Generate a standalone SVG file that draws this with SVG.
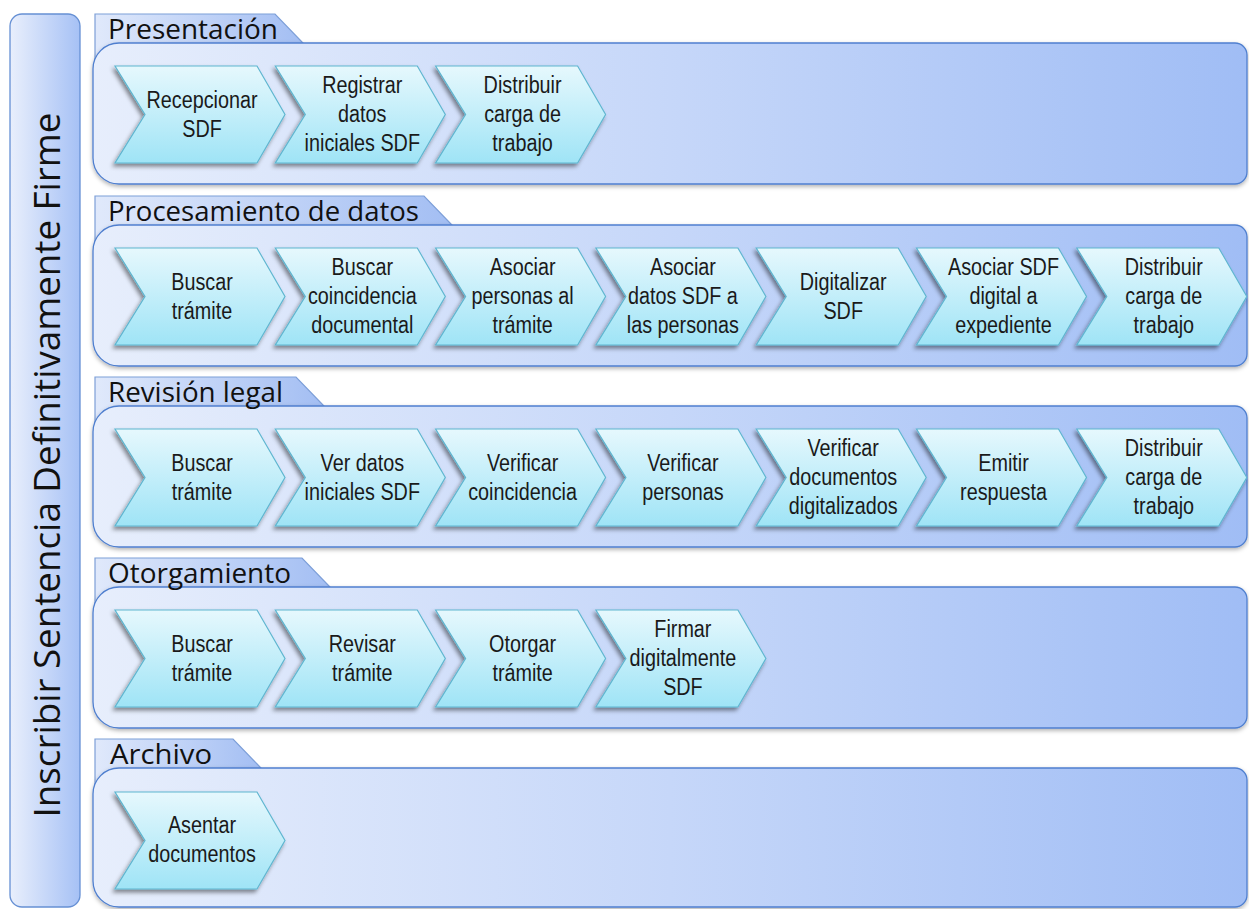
<svg xmlns="http://www.w3.org/2000/svg" width="1249" height="909" viewBox="0 0 1249 909">
<defs>
<linearGradient id="gBar" x1="0" y1="0" x2="1" y2="0"><stop offset="0" stop-color="#e9effc"/><stop offset="1" stop-color="#a6c1f5"/></linearGradient>
<linearGradient id="gBody" x1="0" y1="0" x2="1" y2="0"><stop offset="0" stop-color="#e7eefc"/><stop offset="0.5" stop-color="#c6d7f9"/><stop offset="1" stop-color="#a0bdf5"/></linearGradient>
<linearGradient id="gTab" x1="0" y1="0" x2="1" y2="0"><stop offset="0" stop-color="#e0e9fb"/><stop offset="1" stop-color="#a3bef3"/></linearGradient>
<linearGradient id="gChev" x1="0" y1="0" x2="0" y2="1"><stop offset="0" stop-color="#e6f8fd"/><stop offset="1" stop-color="#9fe4f6"/></linearGradient>
<filter id="shChev" x="-15%" y="-15%" width="130%" height="140%"><feDropShadow dx="-2" dy="3" stdDeviation="2" flood-color="#000" flood-opacity="0.45"/></filter>
<filter id="shBody" x="-5%" y="-10%" width="110%" height="125%"><feDropShadow dx="0" dy="2" stdDeviation="2" flood-color="#000" flood-opacity="0.3"/></filter>
<polygon id="chev" points="0,0 142,0 170,48.5 142,97 0,97 30,48.5"/>
</defs>
<style>
.bar{fill:url(#gBar);stroke:#6690d4;stroke-width:1.3}
.body{fill:url(#gBody);stroke:#4f7fcf;stroke-width:1.3;filter:url(#shBody)}
.tab{fill:url(#gTab);stroke:#7d9fd8;stroke-width:1.2}
.chev{fill:url(#gChev);stroke:#5fb6d0;stroke-width:1.2;filter:url(#shChev)}
.tabt{font-family:"Open Sans","DejaVu Sans",sans-serif;font-size:27px;fill:#111}
.title{font-family:"Open Sans","DejaVu Sans",sans-serif;font-size:37px;fill:#111}
.lbl text{font-family:"Liberation Sans",Arial,sans-serif;font-size:23px;fill:#1a1a1a;text-anchor:middle}
</style>
<rect width="1249" height="909" fill="#ffffff"/>

<g id="title-bar">
<rect class="bar" x="10" y="14" width="70" height="893" rx="12"/>
<text class="title" transform="translate(60 465) rotate(-90)" text-anchor="middle" textLength="705" lengthAdjust="spacingAndGlyphs">Inscribir Sentencia Definitivamente Firme</text>
</g>

<g id="connectors"/>

<!-- Presentación -->
<g id="lane-presentacion">
<polygon class="tab" points="95,14 275,14 303,43 303,74 95,74"/>
<path class="body" d="M119,43 H1235 A12,12 0 0 1 1247,55 V172 A12,12 0 0 1 1235,184 H119 A26,26 0 0 1 93,158 V69 A26,26 0 0 1 119,43 Z"/>
<text class="tabt" x="108" y="39" textLength="170" lengthAdjust="spacingAndGlyphs">Presentación</text>
<g id="p1"><use class="chev" href="#chev" x="115" y="66"/><g class="lbl" transform="translate(202 0) scale(0.86 1)"><text y="108">Recepcionar</text><text y="137">SDF</text></g></g>
<g id="p2"><use class="chev" href="#chev" x="275.3" y="66"/><g class="lbl" transform="translate(362.3 0) scale(0.86 1)"><text y="93.5">Registrar</text><text y="122.5">datos</text><text y="151.5">iniciales SDF</text></g></g>
<g id="p3"><use class="chev" href="#chev" x="435.6" y="66"/><g class="lbl" transform="translate(522.6 0) scale(0.86 1)"><text y="93.5">Distribuir</text><text y="122.5">carga de</text><text y="151.5">trabajo</text></g></g>
</g>

<!-- Procesamiento de datos -->
<g id="lane-procesamiento">
<polygon class="tab" points="95,196 424,196 452,225 452,256 95,256"/>
<path class="body" d="M119,225 H1235 A12,12 0 0 1 1247,237 V354 A12,12 0 0 1 1235,366 H119 A26,26 0 0 1 93,340 V251 A26,26 0 0 1 119,225 Z"/>
<text class="tabt" x="108" y="221" textLength="311" lengthAdjust="spacingAndGlyphs">Procesamiento de datos</text>
<g id="d1"><use class="chev" href="#chev" x="115" y="248"/><g class="lbl" transform="translate(202 0) scale(0.86 1)"><text y="290">Buscar</text><text y="319">trámite</text></g></g>
<g id="d2"><use class="chev" href="#chev" x="275.3" y="248"/><g class="lbl" transform="translate(362.3 0) scale(0.86 1)"><text y="275.5">Buscar</text><text y="304.5">coincidencia</text><text y="333.5">documental</text></g></g>
<g id="d3"><use class="chev" href="#chev" x="435.6" y="248"/><g class="lbl" transform="translate(522.6 0) scale(0.86 1)"><text y="275.5">Asociar</text><text y="304.5">personas al</text><text y="333.5">trámite</text></g></g>
<g id="d4"><use class="chev" href="#chev" x="595.9" y="248"/><g class="lbl" transform="translate(682.9 0) scale(0.86 1)"><text y="275.5">Asociar</text><text y="304.5">datos SDF a</text><text y="333.5">las personas</text></g></g>
<g id="d5"><use class="chev" href="#chev" x="756.2" y="248"/><g class="lbl" transform="translate(843.2 0) scale(0.86 1)"><text y="290">Digitalizar</text><text y="319">SDF</text></g></g>
<g id="d6"><use class="chev" href="#chev" x="916.5" y="248"/><g class="lbl" transform="translate(1003.5 0) scale(0.86 1)"><text y="275.5">Asociar SDF</text><text y="304.5">digital a</text><text y="333.5">expediente</text></g></g>
<g id="d7"><use class="chev" href="#chev" x="1076.8" y="248"/><g class="lbl" transform="translate(1163.8 0) scale(0.86 1)"><text y="275.5">Distribuir</text><text y="304.5">carga de</text><text y="333.5">trabajo</text></g></g>
</g>

<!-- Revisión legal -->
<g id="lane-revision">
<polygon class="tab" points="95,377 296,377 324,406 324,437 95,437"/>
<path class="body" d="M119,406 H1235 A12,12 0 0 1 1247,418 V535 A12,12 0 0 1 1235,547 H119 A26,26 0 0 1 93,521 V432 A26,26 0 0 1 119,406 Z"/>
<text class="tabt" x="108" y="402" textLength="175" lengthAdjust="spacingAndGlyphs">Revisión legal</text>
<g id="r1"><use class="chev" href="#chev" x="115" y="429"/><g class="lbl" transform="translate(202 0) scale(0.86 1)"><text y="471">Buscar</text><text y="500">trámite</text></g></g>
<g id="r2"><use class="chev" href="#chev" x="275.3" y="429"/><g class="lbl" transform="translate(362.3 0) scale(0.86 1)"><text y="471">Ver datos</text><text y="500">iniciales SDF</text></g></g>
<g id="r3"><use class="chev" href="#chev" x="435.6" y="429"/><g class="lbl" transform="translate(522.6 0) scale(0.86 1)"><text y="471">Verificar</text><text y="500">coincidencia</text></g></g>
<g id="r4"><use class="chev" href="#chev" x="595.9" y="429"/><g class="lbl" transform="translate(682.9 0) scale(0.86 1)"><text y="471">Verificar</text><text y="500">personas</text></g></g>
<g id="r5"><use class="chev" href="#chev" x="756.2" y="429"/><g class="lbl" transform="translate(843.2 0) scale(0.86 1)"><text y="456.5">Verificar</text><text y="485.5">documentos</text><text y="514.5">digitalizados</text></g></g>
<g id="r6"><use class="chev" href="#chev" x="916.5" y="429"/><g class="lbl" transform="translate(1003.5 0) scale(0.86 1)"><text y="471">Emitir</text><text y="500">respuesta</text></g></g>
<g id="r7"><use class="chev" href="#chev" x="1076.8" y="429"/><g class="lbl" transform="translate(1163.8 0) scale(0.86 1)"><text y="456.5">Distribuir</text><text y="485.5">carga de</text><text y="514.5">trabajo</text></g></g>
</g>

<!-- Otorgamiento -->
<g id="lane-otorgamiento">
<polygon class="tab" points="95,558 302,558 330,587 330,618 95,618"/>
<path class="body" d="M119,587 H1235 A12,12 0 0 1 1247,599 V716 A12,12 0 0 1 1235,728 H119 A26,26 0 0 1 93,702 V613 A26,26 0 0 1 119,587 Z"/>
<text class="tabt" x="108" y="583" textLength="183" lengthAdjust="spacingAndGlyphs">Otorgamiento</text>
<g id="o1"><use class="chev" href="#chev" x="115" y="610"/><g class="lbl" transform="translate(202 0) scale(0.86 1)"><text y="652">Buscar</text><text y="681">trámite</text></g></g>
<g id="o2"><use class="chev" href="#chev" x="275.3" y="610"/><g class="lbl" transform="translate(362.3 0) scale(0.86 1)"><text y="652">Revisar</text><text y="681">trámite</text></g></g>
<g id="o3"><use class="chev" href="#chev" x="435.6" y="610"/><g class="lbl" transform="translate(522.6 0) scale(0.86 1)"><text y="652">Otorgar</text><text y="681">trámite</text></g></g>
<g id="o4"><use class="chev" href="#chev" x="595.9" y="610"/><g class="lbl" transform="translate(682.9 0) scale(0.86 1)"><text y="637.5">Firmar</text><text y="666.5">digitalmente</text><text y="695.5">SDF</text></g></g>
</g>

<!-- Archivo -->
<g id="lane-archivo">
<polygon class="tab" points="95,739 233,739 261,768 261,799 95,799"/>
<path class="body" d="M119,768 H1235 A12,12 0 0 1 1247,780 V895 A12,12 0 0 1 1235,907 H119 A26,26 0 0 1 93,881 V794 A26,26 0 0 1 119,768 Z"/>
<text class="tabt" x="110" y="764" textLength="102" lengthAdjust="spacingAndGlyphs">Archivo</text>
<g id="a1"><use class="chev" href="#chev" x="115" y="792"/><g class="lbl" transform="translate(202 0) scale(0.86 1)"><text y="833">Asentar</text><text y="862">documentos</text></g></g>
</g>
</svg>
